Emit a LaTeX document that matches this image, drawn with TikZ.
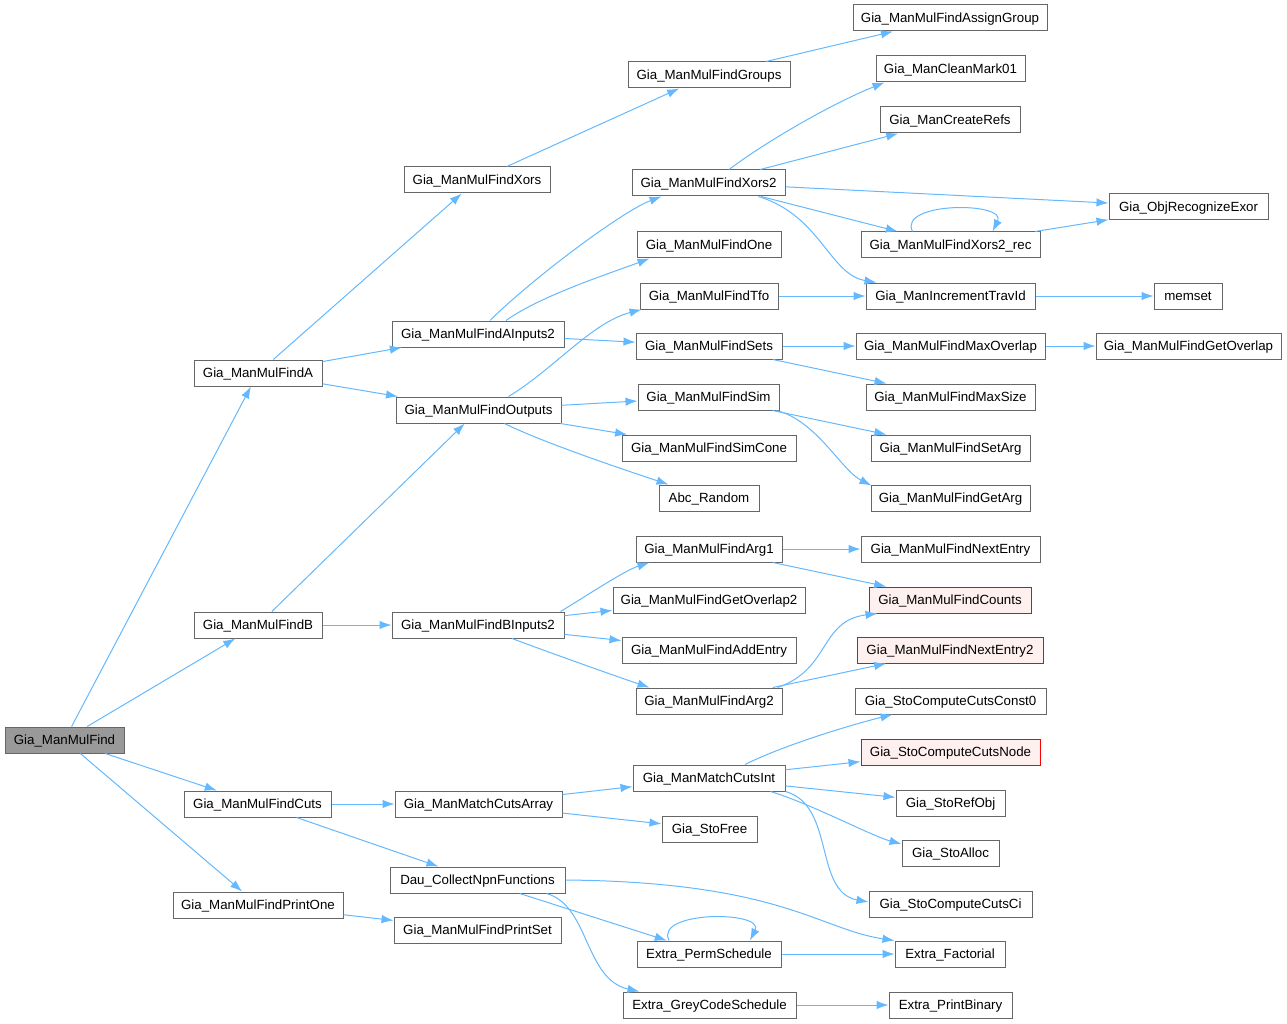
\documentclass[tikz,border=0pt]{standalone}
\usepackage{fontspec}
\setmainfont{Liberation Sans}
\usetikzlibrary{arrows.meta,calc}
\definecolor{edgeblue}{HTML}{63B8FF}
\definecolor{nodegray}{HTML}{666666}
\definecolor{rootfill}{HTML}{999999}
\definecolor{redfill}{HTML}{FFF0F0}
\begin{document}
\begin{tikzpicture}[x=1pt,y=-1pt,
  box/.style={draw=nodegray, line width=1pt, fill=white, inner sep=0pt, minimum height=26pt, text height=9.6pt, text depth=0pt, font=\fontsize{13.3}{16}\selectfont},
  rootbox/.style={box, fill=rootfill},
  redbox/.style={box, draw=red, fill=redfill},
  call/.style={draw=edgeblue, line width=1pt, -{Latex[length=12pt,width=8.5pt]}}]
\useasboundingbox (0,0) rectangle (1287,1024);
% column 0
\node[rootbox, minimum width=119pt] (find) at (64.5,740) {Gia\_ManMulFind};
% column 1
\node[box, minimum width=128pt] (mfa) at (258,373) {Gia\_ManMulFindA};
\node[box, minimum width=128pt] (mfb) at (258,625) {Gia\_ManMulFindB};
\node[box, minimum width=147pt] (cuts) at (257.5,804) {Gia\_ManMulFindCuts};
\node[box, minimum width=170pt] (pone) at (258,905) {Gia\_ManMulFindPrintOne};
% column 2
\node[box, minimum width=146pt] (xors) at (477,180) {Gia\_ManMulFindXors};
\node[box, minimum width=172pt] (ain) at (478,334) {Gia\_ManMulFindAInputs2};
\node[box, minimum width=165pt] (outs) at (478.5,410) {Gia\_ManMulFindOutputs};
\node[box, minimum width=172pt] (bin) at (478,625) {Gia\_ManMulFindBInputs2};
\node[box, minimum width=167pt] (mca) at (478.5,804) {Gia\_ManMatchCutsArray};
\node[box, minimum width=175pt] (dau) at (477.5,880) {Dau\_CollectNpnFunctions};
\node[box, minimum width=167pt] (pset) at (477.5,930) {Gia\_ManMulFindPrintSet};
% column 3
\node[box, minimum width=162pt] (grp) at (709,75) {Gia\_ManMulFindGroups};
\node[box, minimum width=153pt] (x2) at (708.5,183) {Gia\_ManMulFindXors2};
\node[box, minimum width=144pt] (one) at (709,245) {Gia\_ManMulFindOne};
\node[box, minimum width=138pt] (tfo) at (709,296) {Gia\_ManMulFindTfo};
\node[box, minimum width=146pt] (sets) at (709,346) {Gia\_ManMulFindSets};
\node[box, minimum width=141pt] (sim) at (708.5,397) {Gia\_ManMulFindSim};
\node[box, minimum width=174pt] (simc) at (709,448) {Gia\_ManMulFindSimCone};
\node[box, minimum width=100pt] (abc) at (709,498) {Abc\_Random};
\node[box, minimum width=146pt] (a1) at (709,549) {Gia\_ManMulFindArg1};
\node[box, minimum width=192pt] (go2) at (709,600) {Gia\_ManMulFindGetOverlap2};
\node[box, minimum width=174pt] (ae) at (709,650) {Gia\_ManMulFindAddEntry};
\node[box, minimum width=146pt] (a2) at (709,701) {Gia\_ManMulFindArg2};
\node[box, minimum width=152pt] (mci) at (709,778) {Gia\_ManMatchCutsInt};
\node[box, minimum width=95pt] (sfree) at (709.5,829) {Gia\_StoFree};
\node[box, minimum width=144pt] (perm) at (709,954) {Extra\_PermSchedule};
\node[box, minimum width=173pt] (grey) at (709.5,1005) {Extra\_GreyCodeSchedule};
% column 4
\node[box, minimum width=194pt] (ag) at (950,18) {Gia\_ManMulFindAssignGroup};
\node[box, minimum width=149pt] (cm01) at (950.5,69) {Gia\_ManCleanMark01};
\node[box, minimum width=140pt] (cref) at (950,120) {Gia\_ManCreateRefs};
\node[box, minimum width=179pt] (xr) at (950.5,245) {Gia\_ManMulFindXors2\_rec};
\node[box, minimum width=169pt] (itid) at (950.5,296) {Gia\_ManIncrementTravId};
\node[box, minimum width=189pt] (mo) at (950.5,346) {Gia\_ManMulFindMaxOverlap};
\node[box, minimum width=169pt] (ms) at (950.5,397) {Gia\_ManMulFindMaxSize};
\node[box, minimum width=159pt] (sa) at (950.5,448) {Gia\_ManMulFindSetArg};
\node[box, minimum width=159pt] (ga) at (950.5,498) {Gia\_ManMulFindGetArg};
\node[box, minimum width=179pt] (ne) at (950.5,549) {Gia\_ManMulFindNextEntry};
\node[redbox, minimum width=162pt] (cnt) at (950,600) {Gia\_ManMulFindCounts};
\node[redbox, minimum width=186pt] (ne2) at (950,650) {Gia\_ManMulFindNextEntry2};
\node[box, minimum width=191pt] (c0) at (950.5,701) {Gia\_StoComputeCutsConst0};
\node[redbox, minimum width=179pt] (cnode) at (950.5,752) {Gia\_StoComputeCutsNode};
\node[box, minimum width=109pt] (ro) at (950.5,803) {Gia\_StoRefObj};
\node[box, minimum width=97pt] (salloc) at (950.5,853) {Gia\_StoAlloc};
\node[box, minimum width=163pt] (cci) at (950.5,904) {Gia\_StoComputeCutsCi};
\node[box, minimum width=110pt] (fact) at (950,954) {Extra\_Factorial};
\node[box, minimum width=123pt] (pb) at (950.5,1005) {Extra\_PrintBinary};
% column 5
\node[box, minimum width=159pt] (ore) at (1188.5,207) {Gia\_ObjRecognizeExor};
\node[box, minimum width=68pt] (mset) at (1188,296) {memset};
\node[box, minimum width=185pt] (gov) at (1188.5,346) {Gia\_ManMulFindGetOverlap};
% edges from root
\draw[call] (find) -- (mfa);
\draw[call] (find) -- (mfb);
\draw[call] (find) -- (cuts);
\draw[call] (find) -- (pone);
% column 1 edges
\draw[call] (mfa) -- (xors);
\draw[call] (mfa) -- (ain);
\draw[call] (mfa) -- (outs);
\draw[call] (mfb) -- (outs);
\draw[call] (mfb) -- (bin);
\draw[call] (cuts) -- (mca);
\draw[call] (cuts) -- (dau);
\draw[call] (pone) -- (pset);
% column 2 edges
\draw[call] (xors) -- (grp);
\draw[call] ($(ain.north)+(12,0)$) .. controls +(40,-40) and +(-40,15) .. ($(x2.south west)+(30,0)$);
\draw[call] ($(ain.north)+(28,0)$) .. controls +(35,-25) and +(-40,15) .. ($(one.south west)+(13,0)$);
\draw[call] (ain) -- (sets);
\draw[call] ($(outs.north)+(30,0)$) .. controls +(45,-27) and +(-50,13) .. ($(tfo.south west)+(2,0)$);
\draw[call] (outs) -- (sim);
\draw[call] (outs) -- (simc);
\draw[call] ($(outs.south)+(26,0)$) .. controls +(40,20) and +(-30,-10) .. ($(abc.north west)+(10,0)$);
\draw[call] ($(bin.north east)+(-4,0)$) .. controls +(25,-15) and +(-25,8) .. ($(a1.south west)+(14,0)$);
\draw[call] (bin) -- (go2);
\draw[call] (bin) -- (ae);
\draw[call] ($(bin.south)+(34,0)$) .. controls +(40,15) and +(-30,-10) .. ($(a2.north west)+(14,0)$);
\draw[call] (mca) -- (mci);
\draw[call] (mca) -- (sfree);
\draw[call] (dau) -- (perm);
\draw[call] ($(dau.south)+(69,0)$) .. controls +(43,12) and +(-55,-12) .. ($(grey.north west)+(17,0)$);
\draw[call] (dau.east) .. controls +(215,2) and +(-75,-11) .. (fact.north west);
% column 3 edges
\draw[call] (grp) -- (ag);
\draw[call] ($(x2.north)+(20.5,0)$) .. controls +(40,-30) and +(-50,20) .. ($(cm01.south west)+(9,0)$);
\draw[call] (x2) -- (cref);
\draw[call] (x2) -- (ore);
\draw[call] (x2) -- (xr);
\draw[call] ($(x2.south east)+(-27,0)$) .. controls +(62,19) and +(-47,-8) .. ($(itid.north west)+(11,0)$);
\draw[call] (tfo) -- (itid);
\draw[call] (sets) -- (mo);
\draw[call] (sets) -- (ms);
\draw[call] (sim) -- (sa);
\draw[call] ($(sim.south east)+(-3,0)$) .. controls +(40,10) and +(-30,-15) .. ($(ga.north west)+(1,1)$);
\draw[call] (a1) -- (ne);
\draw[call] (a1) -- (cnt);
\draw[call] ($(a2.north east)+(-5,0)$) .. controls +(53,-18) and +(-58,7) .. ($(cnt.south west)+(9,0)$);
\draw[call] (a2) -- (ne2);
\draw[call] ($(mci.north)+(36,0)$) .. controls +(40,-20) and +(-40,10) .. ($(c0.south west)+(38,0)$);
\draw[call] (mci) -- (cnode);
\draw[call] (mci) -- (ro);
\draw[call] ($(mci.south east)+(-15,0)$) .. controls +(40,12) and +(-30,-8) .. ($(salloc.west)+(0,-9)$);
\draw[call] (mci.south east) .. controls +(50,14) and +(-55,-10) .. ($(cci.west)+(0,-2)$);
\draw[call] (perm) -- (fact);
\draw[call] (grey) -- (pb);
% self loops
\draw[call] ($(perm.north)+(-40,0)$) .. controls +(-15,-30) and +(15,-30) .. ($(perm.north)+(41,0)$);
\draw[call] ($(xr.north)+(-38,0)$) .. controls +(-15,-30) and +(15,-30) .. ($(xr.north)+(42,0)$);
% column 4 edges
\draw[call] (xr) -- (ore);
\draw[call] (itid) -- (mset);
\draw[call] (mo) -- (gov);
\end{tikzpicture}
\end{document}
